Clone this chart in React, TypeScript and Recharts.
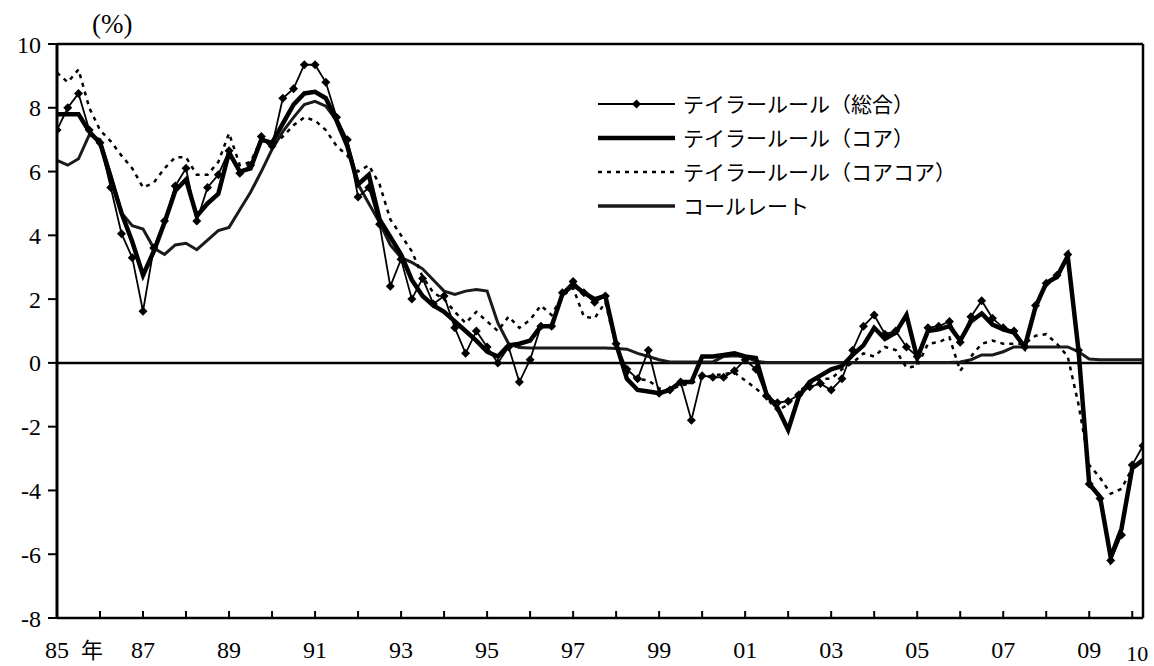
import React from 'react';
import { LineChart, Line, XAxis, YAxis, ReferenceLine, Legend } from 'recharts';

// Quarterly observations, 1985Q1 .. 2010Q2
const startYear = 1985;
const quarterCount = 102;
const quarterPos: number[] = Array.from({ length: quarterCount }, (_, i) => startYear + i / 4);

const taylorTotal: number[] = [
  7.3, 8.0, 8.45, 7.3, 6.9, 5.5, 4.05, 3.3, 1.62, 3.6, 4.45, 5.55, 6.1, 4.45, 5.5, 5.9,
  6.65, 5.95, 6.2, 7.1, 6.8, 8.3, 8.6, 9.35, 9.35, 8.8, 7.7, 7.0, 5.2, 5.5, 4.35, 2.4,
  3.25, 2.0, 2.65, 1.85, 2.1, 1.1, 0.3, 1.0, 0.5, 0.0, 0.5, -0.6, 0.1, 1.15, 1.15, 2.2,
  2.55, 2.2, 1.9, 2.1, 0.6, -0.2, -0.5, 0.4, -0.95, -0.85, -0.6, -1.8, -0.4, -0.45, -0.45, -0.25,
  0.1, -0.2, -1.05, -1.25, -1.2, -1.0, -0.75, -0.65, -0.85, -0.5, 0.4, 1.15, 1.5, 0.9, 1.0, 0.5,
  0.2, 1.1, 1.15, 1.3, 0.65, 1.45, 1.95, 1.4, 1.1, 1.0, 0.5, 1.8, 2.5, 2.75, 3.4, 0.4,
  -3.8, -4.25, -6.2, -5.4, -3.2, -2.6,
];

const taylorCore: number[] = [
  7.8, 7.8, 7.8, 7.25, 6.9, 5.8, 4.7, 3.8, 2.75, 3.5, 4.4, 5.4, 5.75, 4.6, 5.0, 5.3,
  6.6, 6.0, 6.1, 7.0, 6.9, 7.5, 8.1, 8.45, 8.5, 8.3, 7.6, 6.8, 5.6, 5.9, 4.5, 3.95,
  3.4, 2.6, 2.1, 1.8, 1.6, 1.3, 1.0, 0.7, 0.35, 0.2, 0.55, 0.6, 0.7, 1.15, 1.15, 2.15,
  2.45, 2.2, 2.0, 2.1, 0.6, -0.5, -0.85, -0.9, -0.95, -0.85, -0.6, -0.6, 0.2, 0.2, 0.25, 0.3,
  0.2, 0.15, -1.0, -1.4, -2.1, -1.05, -0.6, -0.4, -0.2, -0.1, 0.25, 0.55, 1.1, 0.75, 0.95, 1.5,
  0.15, 1.0, 1.05, 1.15, 0.7, 1.3, 1.55, 1.2, 1.05, 0.95, 0.5, 1.75, 2.5, 2.7, 3.35, 0.4,
  -3.8, -4.2, -6.1, -5.2, -3.3, -3.05,
];

const taylorCoreCore: number[] = [
  9.1, 8.8, 9.2, 8.0, 7.3, 6.95, 6.5, 6.1, 5.5, 5.65, 6.1, 6.45, 6.45, 5.9, 5.9, 6.3,
  7.2, 6.2, 6.3, 7.0, 6.8, 7.1, 7.45, 7.7, 7.6, 7.3, 6.8, 6.5, 6.0, 6.2, 5.6, 4.5,
  4.0, 3.5, 2.7, 2.2, 2.0, 1.6, 1.25, 1.6, 1.3, 1.0, 1.45, 1.1, 1.35, 1.8, 1.5, 2.1,
  2.35, 1.45, 1.4, 1.9, 0.5, -0.3, -0.5, -0.55, -0.8, -0.85, -0.7, -0.65, -0.45, -0.4, -0.35, -0.3,
  -0.55, -0.8, -1.1, -1.5, -1.3, -0.9, -0.65, -0.5, -0.5, -0.2, 0.0, 0.3, 0.2, 0.5, 0.4, -0.15,
  -0.1, 0.6, 0.65, 0.8, -0.25, 0.2, 0.6, 0.7, 0.6, 0.6, 0.6, 0.85, 0.9, 0.6, 0.2, -1.3,
  -3.2, -3.6, -4.1, -3.95, -3.3, -3.0,
];

const callRate: number[] = [
  6.35, 6.2, 6.4, 7.15, 7.0, 5.9, 4.7, 4.3, 4.2, 3.6, 3.4, 3.7, 3.75, 3.55, 3.85, 4.15,
  4.25, 4.8, 5.35, 6.0, 6.7, 7.25, 7.7, 8.1, 8.2, 8.05, 7.6, 6.9, 5.6, 5.0, 4.4, 3.7,
  3.3, 3.15, 2.95, 2.6, 2.25, 2.15, 2.25, 2.3, 2.25, 1.25, 0.6, 0.48, 0.47, 0.47, 0.47, 0.47,
  0.47, 0.47, 0.47, 0.47, 0.45, 0.43, 0.3, 0.2, 0.1, 0.03, 0.03, 0.03, 0.03, 0.03, 0.2, 0.22,
  0.2, 0.05, 0.01, 0.01, 0.01, 0.01, 0.01, 0.01, 0.01, 0.01, 0.01, 0.01, 0.01, 0.01, 0.01, 0.01,
  0.01, 0.01, 0.01, 0.01, 0.03, 0.1, 0.25, 0.25, 0.35, 0.5, 0.5, 0.5, 0.5, 0.5, 0.5, 0.35,
  0.12, 0.1, 0.1, 0.1, 0.1, 0.1,
];

const seriesNames: string[] = [
  'テイラールール（総合）',
  'テイラールール（コア）',
  'テイラールール（コアコア）',
  'コールレート',
];

const yTicks: number[] = [-8, -6, -4, -2, 0, 2, 4, 6, 8, 10];
const xTicks: number[] = [
  1985, 1986, 1987, 1988, 1989, 1990, 1991, 1992, 1993, 1994, 1995, 1996, 1997,
  1998, 1999, 2000, 2001, 2002, 2003, 2004, 2005, 2006, 2007, 2008, 2009, 2010,
];
const xTickLabels: Record<number, string> = {
  1985: '85', 1987: '87', 1989: '89', 1991: '91', 1993: '93', 1995: '95', 1997: '97',
  1999: '99', 2001: '01', 2003: '03', 2005: '05', 2007: '07', 2009: '09', 2010: '10',
};
const yearSuffix = '年';
const unitLabel = '(%)';

const data = quarterPos.map((t, i) => ({
  t,
  total: taylorTotal[i],
  core: taylorCore[i],
  coreCore: taylorCoreCore[i],
  call: callRate[i],
}));

const SERIF = '"Liberation Serif", "Times New Roman", "DejaVu Serif", serif';
const JP = '"Noto Sans CJK JP", "Noto Sans", sans-serif';

const diamondPath = (cx: number, cy: number, s: number) =>
  `M${cx},${cy - s}L${cx + s},${cy}L${cx},${cy + s}L${cx - s},${cy}Z`;

const DiamondDot = (props: any) => {
  const { cx, cy, index } = props;
  if (cx == null || cy == null) return <g key={`dd${index}`} />;
  return <path key={`dd${index}`} d={diamondPath(cx, cy, 4.5)} fill="#000" stroke="none" />;
};

const XTick = (props: any) => {
  const { x, y, payload } = props;
  const v = payload.value as number;
  const lbl = xTickLabels[v];
  const isLast = v === 2010;
  return (
    <g>
      <line x1={x} x2={x} y1={y} y2={y - 7} stroke="#000" strokeWidth={2} />
      {lbl && (
        <text
          x={isLast ? x + 5 : x}
          y={isLast ? y + 43 : y + 40}
          textAnchor="middle"
          fontFamily={SERIF}
          fontSize={isLast ? 22 : 24}
          fill="#000"
        >
          {lbl}
        </text>
      )}
      {v === 1985 && (
        <text x={x + 35} y={y + 40} textAnchor="middle" fontFamily={JP} fontSize={22} fill="#000">
          {yearSuffix}
        </text>
      )}
    </g>
  );
};

const LegendContent = () => {
  const rowY = [20, 54, 88, 122];
  const x0 = 8;
  const x1 = 85;
  return (
    <svg width={460} height={145} style={{ display: 'block' }}>
      <line x1={x0} x2={x1} y1={rowY[0]} y2={rowY[0]} stroke="#000" strokeWidth={1.8} />
      <path d={diamondPath((x0 + x1) / 2, rowY[0], 4.5)} fill="#000" />
      <line x1={x0} x2={x1} y1={rowY[1]} y2={rowY[1]} stroke="#000" strokeWidth={4.5} />
      <line x1={x0} x2={x1} y1={rowY[2]} y2={rowY[2]} stroke="#000" strokeWidth={2.5} strokeDasharray="4 5" />
      <line x1={x0} x2={x1} y1={rowY[3]} y2={rowY[3]} stroke="#1a1a1a" strokeWidth={3.5} />
      {seriesNames.map((n, i) => (
        <text key={n} x={93} y={rowY[i] + 7.5} fontFamily={JP} fontSize={21} fill="#000">
          {n}
        </text>
      ))}
    </svg>
  );
};

export default function App() {
  return (
    <div style={{ position: 'absolute', left: 0, top: 0, width: 1154, height: 666, background: '#fff' }}>
      <LineChart
        width={1154}
        height={666}
        data={data}
        margin={{ top: 44, right: 11, left: 0, bottom: 0 }}
      >
        <XAxis
          dataKey="t"
          type="number"
          domain={[1985, 2010.25]}
          ticks={xTicks}
          interval={0}
          height={48}
          tickSize={0}
          tickMargin={0}
          tickLine={false}
          axisLine={{ stroke: '#000', strokeWidth: 2.5 }}
          tick={<XTick />}
          allowDataOverflow
        />
        <YAxis
          type="number"
          domain={[-8, 10]}
          ticks={yTicks}
          interval={0}
          width={57}
          tickSize={9}
          tickMargin={7}
          axisLine={{ stroke: '#000', strokeWidth: 3 }}
          tickLine={{ stroke: '#000', strokeWidth: 2 }}
          tick={{ fontFamily: SERIF, fontSize: 24, fill: '#000' }}
          allowDataOverflow
        />
        <ReferenceLine y={10} stroke="#000" strokeWidth={2.5} />
        <ReferenceLine x={2010.25} stroke="#000" strokeWidth={2.5} />
        <ReferenceLine y={0} stroke="#000" strokeWidth={2.5} />
        <Legend
          layout="vertical"
          align="center"
          verticalAlign="middle"
          content={<LegendContent />}
          wrapperStyle={{ position: 'absolute', left: 590, top: 84, width: 460, height: 145 }}
        />
        <Line
          type="linear"
          dataKey="call"
          name={seriesNames[3]}
          stroke="#1a1a1a"
          strokeWidth={3}
          dot={false}
          isAnimationActive={false}
        />
        <Line
          type="linear"
          dataKey="coreCore"
          name={seriesNames[2]}
          stroke="#000"
          strokeWidth={2.5}
          strokeDasharray="4 5"
          dot={false}
          isAnimationActive={false}
        />
        <Line
          type="linear"
          dataKey="core"
          name={seriesNames[1]}
          stroke="#000"
          strokeWidth={4.5}
          dot={false}
          isAnimationActive={false}
        />
        <Line
          type="linear"
          dataKey="total"
          name={seriesNames[0]}
          stroke="#000"
          strokeWidth={1.8}
          dot={<DiamondDot />}
          isAnimationActive={false}
        />
      </LineChart>
      <div
        style={{
          position: 'absolute',
          left: 92,
          top: 9,
          fontFamily: SERIF,
          fontSize: 27,
          lineHeight: '30px',
          color: '#000',
        }}
      >
        {unitLabel}
      </div>
    </div>
  );
}
